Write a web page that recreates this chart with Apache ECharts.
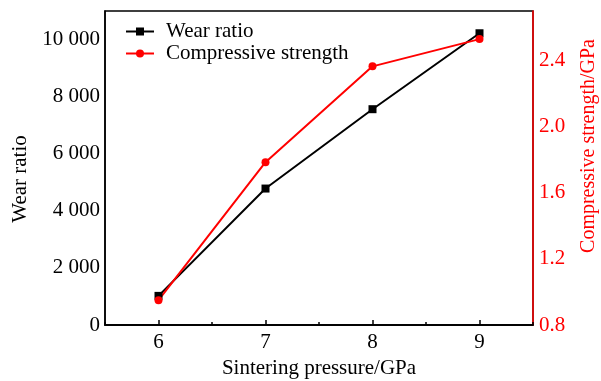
<!DOCTYPE html>
<html>
<head>
<meta charset="utf-8">
<script src="https://cdn.jsdelivr.net/npm/echarts@6/dist/echarts.min.js"></script>
<style>html,body{margin:0;padding:0;background:#fff}#c{width:601px;height:381px}</style>
</head>
<body>
<div id="c"></div>
<script>
const categories = ['6', '7', '8', '9'];
const wearRatio = [1020, 4780, 7560, 10220];
const compressiveStrength = [0.95, 1.785, 2.365, 2.53];
const wearTicks = [0, 2000, 4000, 6000, 8000, 10000];
const strengthTicks = [0.8, 1.2, 1.6, 2.0, 2.4];

const FONT = "'Liberation Serif','Times New Roman',serif";
const RED = '#ff0000';
const FS = 21;
const chart = echarts.init(document.getElementById('c'));

function fmtThousands(v) {
  if (v === 0) return '0';
  const s = String(v);
  return s.slice(0, s.length - 3) + ' ' + s.slice(-3);
}

chart.setOption({
  animation: false,
  backgroundColor: '#fff',
  grid: { left: 105, right: 68, top: 11, bottom: 56, show: true, borderColor: '#000', borderWidth: 1.5,
          containLabel: false, outerBoundsMode: 'none' },
  legend: {
    orient: 'vertical', left: 120, top: 16, itemWidth: 28, itemHeight: 10, itemGap: 1,
    textStyle: { fontFamily: FONT, fontSize: FS, color: '#000', padding: [0, 0, 0, 7] },
    data: ['Wear ratio', 'Compressive strength']
  },
  xAxis: [{
    type: 'category', data: categories, boundaryGap: true,
    name: 'Sintering pressure/GPa', nameLocation: 'middle', nameGap: 33,
    nameTextStyle: { fontFamily: FONT, fontSize: FS, color: '#000' },
    axisLine: { lineStyle: { color: '#000', width: 1.5 } },
    axisTick: { show: true, alignWithLabel: true, inside: true, length: 5, lineStyle: { color: '#000', width: 1.5 } },
    axisLabel: { fontFamily: FONT, fontSize: FS, color: '#000', margin: 7 },
    splitLine: { show: false }
  }, {
    type: 'category', data: categories, boundaryGap: true, position: 'bottom', offset: 0,
    axisLine: { show: true, lineStyle: { color: '#000', width: 1.5 } },
    axisTick: { show: true, alignWithLabel: false, inside: true, length: 3, lineStyle: { color: '#000', width: 1.5 } },
    axisLabel: { show: false }, splitLine: { show: false }
  }],
  yAxis: [{
    type: 'value', min: 0, max: 11000, interval: 1000,
    name: 'Wear ratio', nameLocation: 'middle', nameGap: 73, nameRotate: 90,
    nameTextStyle: { fontFamily: FONT, fontSize: FS, color: '#000', padding: [0, 22, 0, 0] },
    axisLine: { show: true, lineStyle: { color: '#000', width: 1.5 } },
    axisTick: { inside: true, length: 5, lineStyle: { color: '#000', width: 1.5 } },
    axisLabel: {
      fontFamily: FONT, fontSize: FS, color: '#000', margin: 5, showMaxLabel: false,
      formatter: v => wearTicks.indexOf(v) >= 0 ? fmtThousands(v) : ''
    },
    splitLine: { show: false }
  }, {
    type: 'value', min: 0.8, max: 2.7, interval: 0.2, position: 'right',
    name: 'Compressive strength/GPa', nameLocation: 'middle', nameGap: 46, nameRotate: 90,
    nameTextStyle: { fontFamily: FONT, fontSize: 20, color: RED, padding: [0, 0, 0, 44] },
    axisLine: { show: true, lineStyle: { color: RED, width: 1.5 } },
    axisTick: { inside: true, length: 5, lineStyle: { color: RED, width: 1.5 } },
    axisLabel: {
      fontFamily: FONT, fontSize: FS, color: RED, margin: 6, showMaxLabel: false,
      formatter: v => strengthTicks.some(t => Math.abs(t - v) < 1e-6) ? v.toFixed(1) : ''
    },
    splitLine: { show: false }
  }],
  series: [{
    name: 'Wear ratio', type: 'line', xAxisIndex: 0, yAxisIndex: 0, data: wearRatio,
    symbol: 'rect', symbolSize: 8, color: '#000',
    lineStyle: { color: '#000', width: 2 }, itemStyle: { color: '#000' }
  }, {
    name: 'Compressive strength', type: 'line', xAxisIndex: 0, yAxisIndex: 1, data: compressiveStrength,
    symbol: 'circle', symbolSize: 8, color: RED,
    lineStyle: { color: RED, width: 2 }, itemStyle: { color: RED }
  }]
});
</script>
</body>
</html>
